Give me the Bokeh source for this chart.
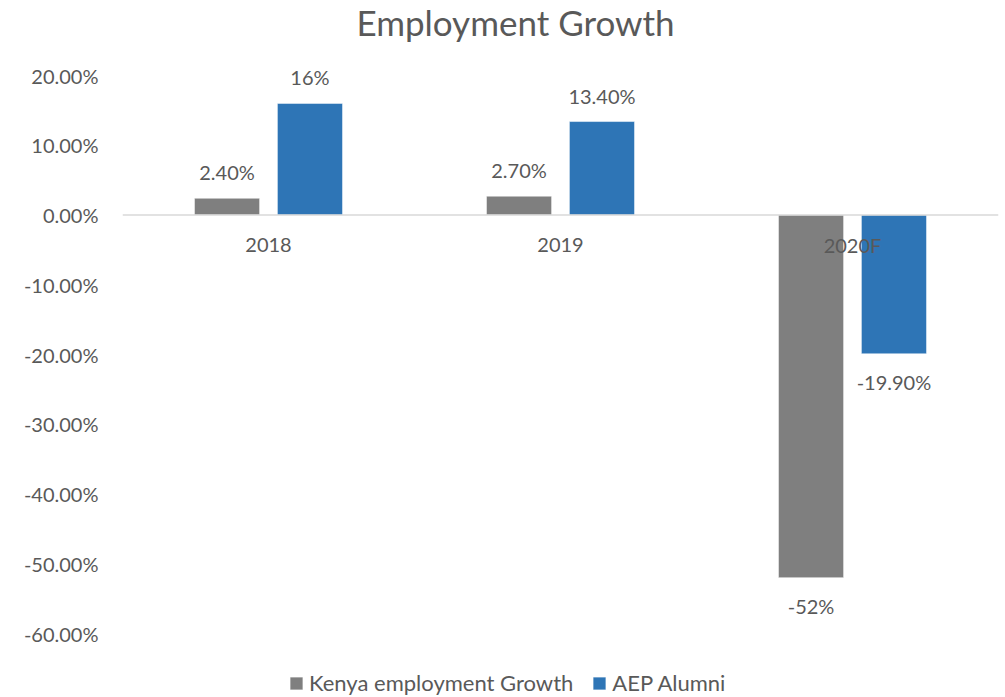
from bokeh.plotting import figure
from bokeh.models import (FactorRange, Range1d, FixedTicker, NumeralTickFormatter,
                          Span, Legend, LegendItem, ColumnDataSource)
from bokeh.transform import dodge
from bokeh.core.properties import value
from bokeh.embed import file_html
from bokeh.resources import INLINE

title = "Employment Growth"
categories = ["2018", "2019", "2020F"]
kenya = [0.024, 0.027, -0.52]
aep = [0.16, 0.134, -0.199]
kenya_labels = ["2.40%", "2.70%", "-52%"]
aep_labels = ["16%", "13.40%", "-19.90%"]
y_ticks = [-0.6, -0.5, -0.4, -0.3, -0.2, -0.1, 0.0, 0.1, 0.2]
series_names = ["Kenya employment Growth", "AEP Alumni"]

FONT = "Lato"
TXT = "#595959"
GRAY = "#7f7f7f"
BLUE = "#2e75b6"

H = 697
PX_PER_UNIT = 697.5  # pixels per 1.0 (100%)
y_top = 0.2 + 75 / PX_PER_UNIT
y_bot = -0.6 - (H - 633) / PX_PER_UNIT

src = ColumnDataSource(dict(
    cat=categories, kenya=kenya, aep=aep,
    klab=kenya_labels, alab=aep_labels,
    kyoff=[-26 if v >= 0 else 28 for v in kenya],
    ayoff=[-26 if v >= 0 else 28 for v in aep],
    zero=[0.0] * len(categories),
))

p = figure(width=1000, height=H, output_backend="svg", toolbar_location=None,
           x_range=FactorRange(factors=categories, range_padding=0),
           y_range=Range1d(y_bot, y_top),
           min_border_left=122, min_border_right=2,
           min_border_top=0, min_border_bottom=0)
p.outline_line_color = None
p.grid.visible = False
p.xaxis.visible = False
p.background_fill_color = "white"

ax = p.yaxis[0]
ax.ticker = FixedTicker(ticks=y_ticks)
ax.formatter = NumeralTickFormatter(format="0.00%")
ax.axis_line_color = None
ax.major_tick_line_color = None
ax.minor_tick_line_color = None
ax.major_tick_out = 0
ax.major_label_standoff = 24
ax.major_label_text_font = FONT
ax.major_label_text_font_size = "20px"
ax.major_label_text_color = TXT

p.add_layout(Span(location=0, dimension="width", line_color="#d9d9d9", line_width=1.5))

w = 0.223
off = 0.142
r1 = p.vbar(x=dodge("cat", -off, range=p.x_range), top="kenya", bottom=0, width=w,
            source=src, fill_color=GRAY, line_color="white", line_width=0.5)
r2 = p.vbar(x=dodge("cat", off, range=p.x_range), top="aep", bottom=0, width=w,
            source=src, fill_color=BLUE, line_color="white", line_width=0.5)

p.text(x=dodge("cat", -off, range=p.x_range), y="kenya", text="klab", y_offset="kyoff",
       source=src, text_align="center", text_baseline="middle",
       text_font=value(FONT), text_font_size="20px", text_color=TXT)
p.text(x=dodge("cat", off, range=p.x_range), y="aep", text="alab", y_offset="ayoff",
       source=src, text_align="center", text_baseline="middle",
       text_font=value(FONT), text_font_size="20px", text_color=TXT)
p.text(x="cat", y="zero", text="cat", y_offset=30, source=src,
       text_align="center", text_baseline="middle",
       text_font=value(FONT), text_font_size="20px", text_color=TXT)

# chart title, drawn inside the (tall) frame
p.text(x=[1.346], y=[0.2 + 54 / PX_PER_UNIT], text=[title],
       text_align="center", text_baseline="middle",
       text_font=value(FONT), text_font_size="35px", text_color=TXT)

legend = Legend(items=[LegendItem(label=series_names[0], renderers=[r1]),
                       LegendItem(label=series_names[1], renderers=[r2])],
                orientation="horizontal", location=(166, 1),
                glyph_width=16, glyph_height=16, label_standoff=5, spacing=18,
                padding=0, margin=0, border_line_alpha=0, background_fill_alpha=0,
                label_text_font=FONT, label_text_font_size="22px",
                label_text_color=TXT)
p.add_layout(legend, "center")

open("out.html", "w").write(file_html(p, INLINE))
